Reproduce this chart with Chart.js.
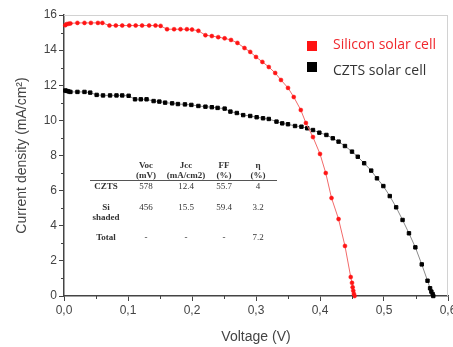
<!DOCTYPE html>
<html>
<head>
<meta charset="utf-8">
<script src="https://cdn.jsdelivr.net/npm/chart.js@4/dist/chart.umd.min.js"></script>
<style>
  body { margin: 0; background: #fff; }
  #wrap { position: relative; width: 453px; height: 347px; }
  .lbl { position: absolute; white-space: nowrap; }
  .leg { font-family: "Open Sans", sans-serif; font-size: 14px; transform: translateY(-50%); }
  .sq { position: absolute; width: 10px; height: 10px; }
  .tb { font-family: "Liberation Serif", serif; font-size: 9px; color: #333; transform: translate(-50%, -50%); text-align: center; line-height: 10px; }
  .tb.b { font-weight: bold; }
  #rule { position: absolute; left: 90px; top: 180px; width: 187px; height: 1px; background: #555; }
</style>
</head>
<body>
<div id="wrap">
  <canvas id="iv" width="453" height="347"></canvas>
  <div class="sq" style="left:307px;top:41px;background:#ff1414"></div>
  <div class="lbl leg" style="left:333px;top:43px;color:#f0282d">Silicon solar cell</div>
  <div class="sq" style="left:307px;top:62px;background:#000"></div>
  <div class="lbl leg" style="left:333px;top:69px;color:#333">CZTS solar cell</div>
  <div id="rule"></div>
</div>
<script>
// silicon cell (red) - voltage (V) / current density (mA/cm2)
const siV = [0.002, 0.004, 0.007, 0.010, 0.021, 0.032, 0.042, 0.053, 0.060,
  0.071, 0.081, 0.091, 0.102, 0.112, 0.122, 0.133, 0.143, 0.151,
  0.161, 0.172, 0.182, 0.192, 0.200, 0.210, 0.221, 0.231, 0.241, 0.251, 0.261,
  0.271, 0.282, 0.291, 0.300, 0.310, 0.320, 0.330, 0.339, 0.350, 0.359,
  0.370, 0.378, 0.389, 0.400, 0.409, 0.418, 0.429, 0.439, 0.448,
  0.450, 0.451, 0.452, 0.453, 0.454];
const siJ = [15.42, 15.48, 15.5, 15.52, 15.55, 15.55, 15.55, 15.55, 15.55,
  15.4, 15.4, 15.4, 15.4, 15.4, 15.4, 15.4, 15.4, 15.38,
  15.19, 15.19, 15.19, 15.19, 15.17, 15.1, 14.85, 14.8, 14.74, 14.67, 14.58,
  14.41, 14.12, 13.9, 13.61, 13.33, 13.04, 12.7, 12.3, 11.85, 11.33,
  10.59, 9.85, 9.05, 8.09, 7.0, 5.58, 4.38, 2.85, 1.08,
  0.75, 0.5, 0.3, 0.12, 0.0];

// CZTS cell (black)
const cztsV = [0.002, 0.004, 0.007, 0.010, 0.021, 0.032, 0.041,
  0.051, 0.061, 0.072, 0.082, 0.091, 0.101, 0.111, 0.120, 0.129,
  0.140, 0.149, 0.158, 0.169, 0.178, 0.189, 0.199,
  0.210, 0.221, 0.231, 0.240, 0.251,
  0.260, 0.270, 0.280, 0.291, 0.301, 0.311, 0.320, 0.332, 0.341, 0.350,
  0.361, 0.371, 0.380, 0.389, 0.399, 0.410, 0.420, 0.429, 0.439, 0.450,
  0.459, 0.469, 0.480, 0.489, 0.499, 0.509, 0.519, 0.529, 0.539, 0.549,
  0.559, 0.568, 0.572, 0.574, 0.576, 0.577];
const cztsJ = [11.7, 11.68, 11.65, 11.62, 11.62, 11.62, 11.58,
  11.45, 11.42, 11.42, 11.42, 11.42, 11.4, 11.2, 11.2, 11.2,
  11.1, 11.07, 11.01, 10.97, 10.93, 10.91, 10.88,
  10.82, 10.78, 10.75, 10.71, 10.67,
  10.5, 10.42, 10.3, 10.25, 10.18, 10.12, 10.08, 9.93, 9.83, 9.78,
  9.68, 9.64, 9.55, 9.45, 9.3, 9.17, 8.98, 8.79, 8.54, 8.22,
  7.93, 7.56, 7.14, 6.7, 6.26, 5.69, 5.05, 4.33, 3.57, 2.77,
  1.8, 0.87, 0.44, 0.25, 0.11, 0.0];

const xMinor = [0.05, 0.15, 0.25, 0.35, 0.45, 0.55];
const yMinor = [1, 3, 5, 7, 9, 11, 13, 15];

// inset table
const tableHeads = [["Voc", "(mV)"], ["Jcc", "(mA/cm2)"], ["FF", "(%)"], ["η", "(%)"]];
const tableRows = [["CZTS"], ["Si", "shaded"], ["Total"]];
const tableVals = [["578", "12.4", "55.7", "4"], ["456", "15.5", "59.4", "3.2"], ["-", "-", "-", "7.2"]];

// table placement
const colX = [146, 186, 224, 258];
const headY = 170;
const rowLabelX = 106;
const rowY = [186, 207, 237];

const wrap = document.getElementById("wrap");
function place(text, x, y, bold) {
    const d = document.createElement("div");
    d.className = "lbl tb" + (bold ? " b" : "");
    d.style.left = x + "px";
    d.style.top = y + "px";
    d.innerHTML = text.join("<br>");
    wrap.appendChild(d);
}
tableHeads.forEach((h, i) => place(h, colX[i], headY, true));
tableRows.forEach((r, i) => place(r, rowLabelX, rowY[i] + (r.length > 1 ? 5 : 0), true));
tableVals.forEach((row, i) => row.forEach((v, j) => place([v], colX[j], rowY[i], false)));

const extras = {
    id: "extras",
    afterDraw(chart) {
        const { ctx, chartArea: a, scales: { x, y } } = chart;
        ctx.save();
        ctx.strokeStyle = "#d2d2d2";
        ctx.lineWidth = 1;
        ctx.beginPath();
        ctx.moveTo(a.left, a.top + 0.5);
        ctx.lineTo(a.right, a.top + 0.5);
        ctx.moveTo(a.right - 0.5, a.top);
        ctx.lineTo(a.right - 0.5, a.bottom);
        ctx.stroke();
        ctx.strokeStyle = "#444";
        ctx.beginPath();
        xMinor.forEach(v => {
            const px = Math.round(x.getPixelForValue(v)) + 0.5;
            ctx.moveTo(px, a.bottom);
            ctx.lineTo(px, a.bottom + 3);
        });
        yMinor.forEach(v => {
            const py = Math.round(y.getPixelForValue(v)) + 0.5;
            ctx.moveTo(a.left, py);
            ctx.lineTo(a.left - 3, py);
        });
        ctx.stroke();
        ctx.restore();
    }
};

const tickFont = { family: "'Liberation Sans', Arial, sans-serif", size: 12 };
const titleFont = { family: "'Liberation Sans', Arial, sans-serif", size: 14 };

new Chart(document.getElementById("iv").getContext("2d"), {
    type: "scatter",
    data: {
        datasets: [{
            label: "Silicon solar cell",
            data: siV.map((v, i) => ({ x: v, y: siJ[i] })),
            showLine: true,
            borderColor: "#f26a6a",
            borderWidth: 1,
            backgroundColor: "#ff1414",
            pointBorderColor: "#ff1414",
            pointStyle: "circle",
            pointRadius: 2,
            pointBorderWidth: 0.5,
            clip: false
        }, {
            label: "CZTS solar cell",
            data: cztsV.map((v, i) => ({ x: v, y: cztsJ[i] })),
            showLine: true,
            borderColor: "#8a8a8a",
            borderWidth: 1,
            backgroundColor: "#000",
            pointBorderColor: "#000",
            pointStyle: "rect",
            pointRadius: 2.4,
            pointBorderWidth: 1,
            clip: false
        }]
    },
    options: {
        responsive: false,
        animation: false,
        layout: { padding: { top: 15, right: 3, left: 0, bottom: 0 } },
        plugins: { legend: { display: false }, tooltip: { enabled: false } },
        scales: {
            x: {
                type: "linear",
                min: 0,
                max: 0.6,
                ticks: {
                    stepSize: 0.1,
                    autoSkip: false,
                    maxRotation: 0,
                    padding: 2,
                    color: "#444",
                    font: tickFont,
                    callback: v => v.toFixed(1).replace(".", ",")
                },
                grid: { drawOnChartArea: false, drawTicks: true, tickLength: 5, color: "#444" },
                border: { color: "#444", width: 1.5 },
                title: { display: true, text: "Voltage (V)", color: "#444", font: titleFont, padding: { top: 0, bottom: 1 } },
                afterFit: s => { s.height = 51; s.paddingLeft = 0; s.paddingRight = 0; }
            },
            y: {
                min: 0,
                max: 16,
                ticks: { stepSize: 2, padding: 2, color: "#444", font: tickFont },
                grid: { drawOnChartArea: false, drawTicks: true, tickLength: 5, color: "#444" },
                border: { color: "#444", width: 1.5 },
                title: { display: true, text: "Current density (mA/cm²)", color: "#444", font: titleFont, padding: { top: 14, bottom: 0 } },
                afterFit: s => { s.width = 64; s.paddingTop = 0; s.paddingBottom = 0; }
            }
        }
    },
    plugins: [extras]
});
</script>
</body>
</html>
